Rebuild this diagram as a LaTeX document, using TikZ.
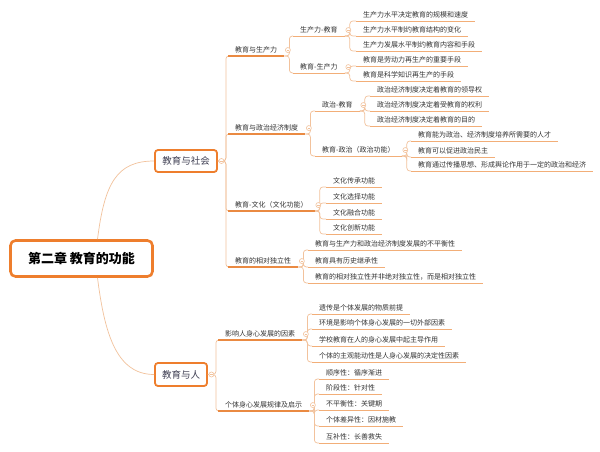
\documentclass[tikz,border=0pt]{standalone}
\usepackage{fontspec}
\setmainfont{Noto Sans CJK SC}
\definecolor{orgb}{HTML}{EE7E2D}
\definecolor{ulone}{HTML}{EA8A42}
\definecolor{ultwo}{HTML}{F2AE78}
\definecolor{linkc}{HTML}{F2C29C}
\definecolor{txt}{HTML}{333333}
\definecolor{boxtxt}{HTML}{3E3E52}
\tikzset{
  lbl/.style={anchor=south west, inner xsep=7pt, inner ysep=2pt, text height=6pt, text depth=1.5pt,
    font=\fontsize{7pt}{8pt}\selectfont, text=txt},
  ulA/.style={draw=ulone, line width=1.3pt},
  ulB/.style={draw=ultwo, line width=0.9pt},
  link/.style={draw=linkc, line width=0.7pt, rounded corners=3pt},
  topbox/.style={draw=orgb, line width=1.8pt, rounded corners=3pt, fill=white, text=boxtxt,
    font=\fontsize{9.5pt}{11pt}\selectfont, inner sep=0pt},
  knob/.style={circle, draw=linkc, fill=white, line width=0.6pt, minimum size=5pt, inner sep=0pt,
    path picture={\draw[linkc, line width=0.5pt] ([xshift=-1.3pt]path picture bounding box.center) -- ([xshift=1.3pt]path picture bounding box.center);}}
}
\begin{document}
\begin{tikzpicture}[x=1pt,y=-1pt]
\fill[white] (0,0) rectangle (600,452);
\useasboundingbox (0,0) rectangle (600,452);

% main boxes
\node[draw=orgb, line width=2.6pt, rounded corners=5pt, minimum width=142pt, minimum height=36pt,
  font=\fontsize{13pt}{15pt}\selectfont\bfseries, text=black, inner sep=0pt] (root) at (81.5,258.5) {第二章 教育的功能};
\node[topbox, minimum width=62pt, minimum height=22pt] (soc) at (186,161) {教育与社会};
\node[topbox, minimum width=52pt, minimum height=23pt] (man) at (181,374.5) {教育与人};

\draw[linkc, line width=0.7pt] ([xshift=16pt]root.north) .. controls +(7,-55) and +(-38,0) .. (soc.west);
\draw[linkc, line width=0.7pt] ([xshift=16pt]root.south) .. controls +(7,55) and +(-38,0) .. (man.west);

% level 2 (society)
\node[lbl] (a1) at (228,56) {教育与生产力};
\node[lbl] (a2) at (228,134) {教育与政治经济制度};
\node[lbl] (a3) at (228,211) {教育-文化（文化功能）};
\node[lbl] (a4) at (228,267) {教育的相对独立性};
% level 2 (person)
\node[lbl] (a5) at (218,340) {影响人身心发展的因素};
\node[lbl] (a6) at (218,411) {个体身心发展规律及启示};

% level 3
\node[lbl] (b1) at (293,36) {生产力-教育};
\node[lbl] (b2) at (293,73) {教育-生产力};
\node[lbl] (b3) at (315,111) {政治-教育};
\node[lbl] (b4) at (315,156) {教育-政治（政治功能）};

% level 4
\node[lbl] (c1) at (356,21) {生产力水平决定教育的规模和速度};
\node[lbl] (c2) at (356,36) {生产力水平制约教育结构的变化};
\node[lbl] (c3) at (356,51) {生产力发展水平制约教育内容和手段};
\node[lbl] (c4) at (356,66) {教育是劳动力再生产的重要手段};
\node[lbl] (c5) at (356,81) {教育是科学知识再生产的手段};
\node[lbl] (c6) at (370,96) {政治经济制度决定着教育的领导权};
\node[lbl] (c7) at (370,111) {政治经济制度决定着受教育的权利};
\node[lbl] (c8) at (370,126) {政治经济制度决定着教育的目的};
\node[lbl] (c9) at (411,141) {教育能为政治、经济制度培养所需要的人才};
\node[lbl] (c10) at (411,157) {教育可以促进政治民主};
\node[lbl] (c11) at (411,171) {教育通过传播思想、形成舆论作用于一定的政治和经济};
\node[lbl] (c12) at (326,187) {文化传承功能};
\node[lbl] (c13) at (326,203) {文化选择功能};
\node[lbl] (c14) at (326,219) {文化融合功能};
\node[lbl] (c15) at (326,234) {文化创新功能};
\node[lbl] (c16) at (308,250) {教育与生产力和政治经济制度发展的不平衡性};
\node[lbl] (c17) at (308,267) {教育具有历史继承性};
\node[lbl] (c18) at (308,283) {教育的相对独立性并非绝对独立性，而是相对独立性};
\node[lbl] (d1) at (312,314) {遗传是个体发展的物质前提};
\node[lbl] (d2) at (312,329) {环境是影响个体身心发展的一切外部因素};
\node[lbl] (d3) at (312,346) {学校教育在人的身心发展中起主导作用};
\node[lbl] (d4) at (312,362) {个体的主观能动性是人身心发展的决定性因素};
\node[lbl] (d5) at (319,379) {顺序性：循序渐进};
\node[lbl] (d6) at (319,394) {阶段性：针对性};
\node[lbl] (d7) at (319,410) {不平衡性：关键期};
\node[lbl] (d8) at (319,426) {个体差异性：因材施教};
\node[lbl] (d9) at (319,443) {互补性：长善救失};

% connectors
\foreach \c in {a1,a2,a3,a4} \path[link] (soc.east) -- ++(8,0) |- (\c.south west);
\foreach \c in {a5,a6} \path[link] (man.east) -- ++(8,0) |- (\c.south west);
\foreach \p/\c in {a1/b1,a1/b2,a2/b3,a2/b4,b1/c1,b1/c2,b1/c3,b2/c4,b2/c5,b3/c6,b3/c7,b3/c8,
  b4/c9,b4/c10,b4/c11,a3/c12,a3/c13,a3/c14,a3/c15,a4/c16,a4/c17,a4/c18,
  a5/d1,a5/d2,a5/d3,a5/d4,a6/d5,a6/d6,a6/d7,a6/d8,a6/d9}
  \path[link] (\p.south east) -- ++(5,0) |- (\c.south west);

% underlines
\foreach \n in {a1,a2,a3,a4,a5,a6} \draw[ulA] (\n.south west) -- (\n.south east);
\foreach \n in {b1,b2,b3,b4,c1,c2,c3,c4,c5,c6,c7,c8,c9,c10,c11,c12,c13,c14,c15,c16,c17,c18,
  d1,d2,d3,d4,d5,d6,d7,d8,d9} \draw[ulB] (\n.south west) -- (\n.south east);

% collapse knobs
\node[knob] (ks) at ([xshift=3.5pt]soc.east) {};
\node[knob] (km) at ([xshift=3.5pt]man.east) {};
\foreach \n in {a1,a2,a3,a4,a5,a6,b1,b2,b3,b4}
  \node[knob] (k\n) at ([xshift=3.5pt]\n.east) {};
\end{tikzpicture}
\end{document}
